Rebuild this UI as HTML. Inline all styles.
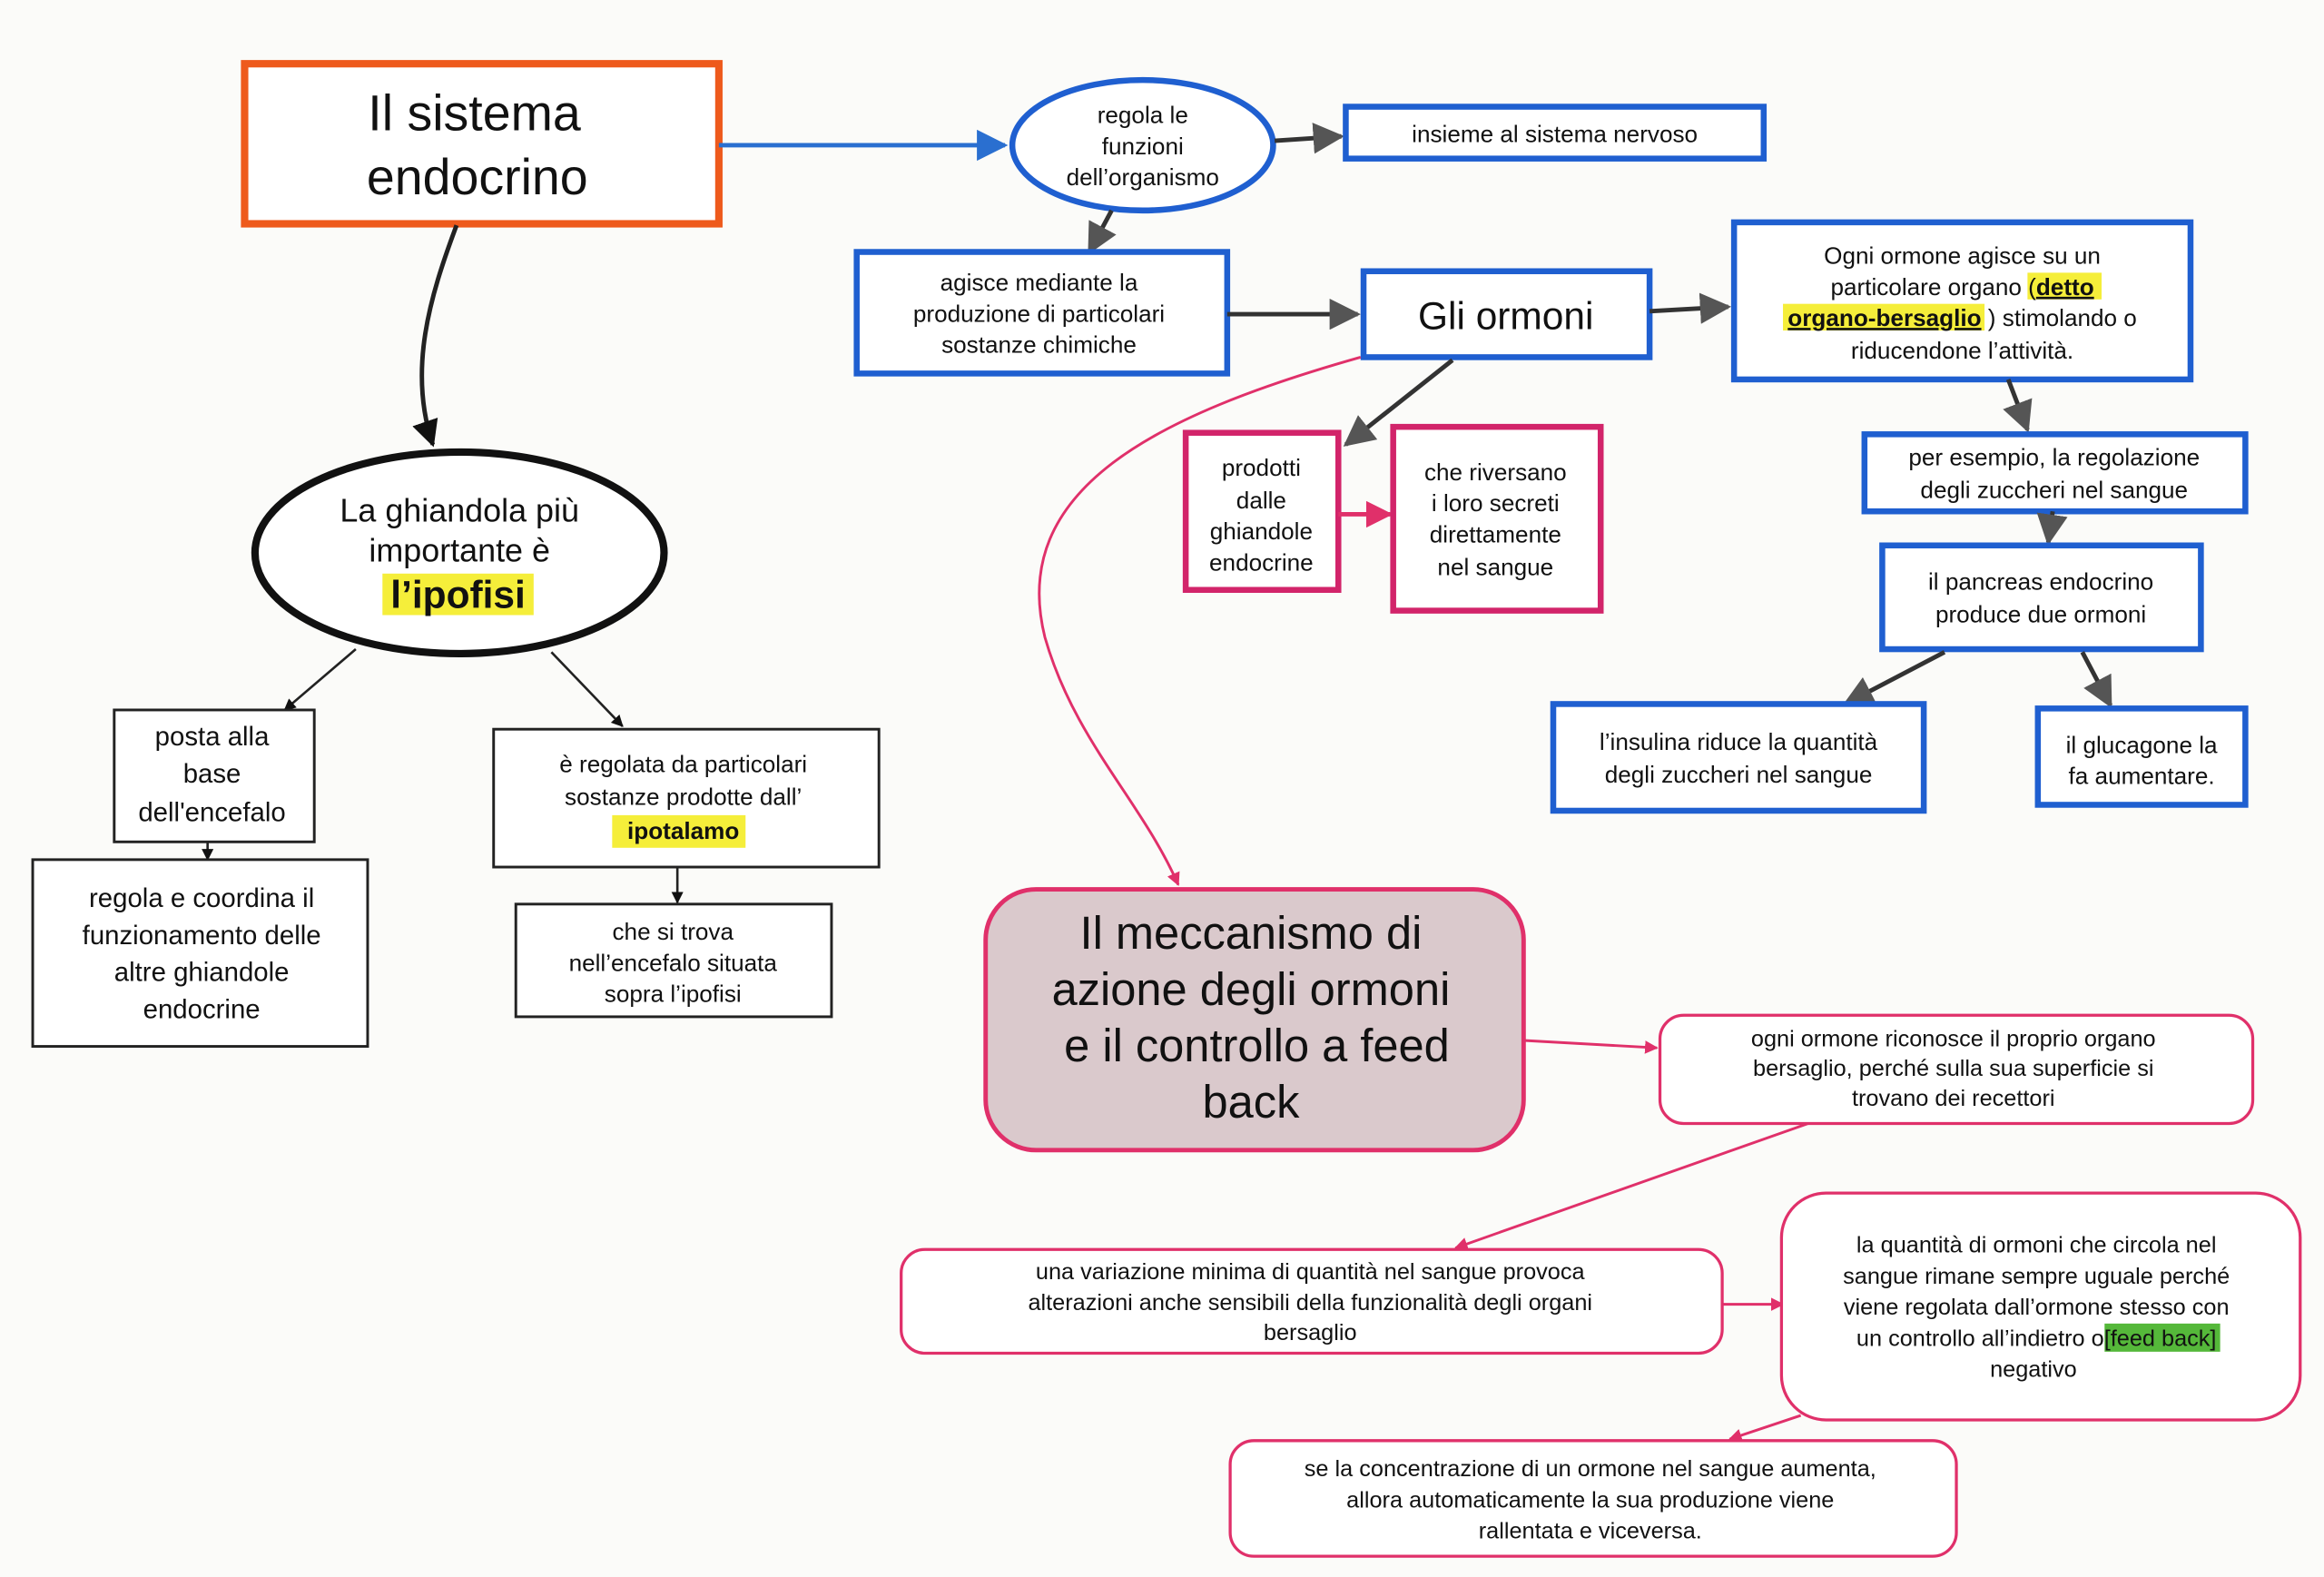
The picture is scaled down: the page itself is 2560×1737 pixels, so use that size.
<!DOCTYPE html>
<html><head><meta charset="utf-8"><style>
html,body{margin:0;padding:0;background:#fbfbf9;}
svg{display:block;}
text{font-family:"Liberation Sans",sans-serif;fill:#111;}
</style></head><body>
<svg width="2560" height="1737" viewBox="0 0 1568 1064" xmlns="http://www.w3.org/2000/svg">
<defs>
<marker id="ag" viewBox="0 0 10 10" refX="9" refY="5" markerWidth="7" markerHeight="7" orient="auto"><path d="M0,0 L10,5 L0,10 z" fill="#555"/></marker>
<marker id="ab" viewBox="0 0 10 10" refX="9" refY="5" markerWidth="7" markerHeight="7" orient="auto"><path d="M0,0 L10,5 L0,10 z" fill="#2a6fd0"/></marker>
<marker id="ak" viewBox="0 0 10 10" refX="9" refY="5" markerWidth="6" markerHeight="6" orient="auto"><path d="M0,0 L10,5 L0,10 z" fill="#111"/></marker>
<marker id="as" viewBox="0 0 10 10" refX="9" refY="5" markerWidth="5" markerHeight="5" orient="auto"><path d="M0,0 L10,5 L0,10 z" fill="#111"/></marker>
<marker id="ap" viewBox="0 0 10 10" refX="9" refY="5" markerWidth="6" markerHeight="6" orient="auto"><path d="M0,0 L10,5 L0,10 z" fill="#e0306a"/></marker>
<marker id="apb" viewBox="0 0 10 10" refX="9" refY="5" markerWidth="5" markerHeight="5" orient="auto"><path d="M0,0 L10,5 L0,10 z" fill="#e0306a"/></marker>
</defs>
<rect width="1568" height="1064" fill="#fbfbf9"/>

<rect x="165" y="43" width="320" height="108" fill="#fff" stroke="#ee5a1c" stroke-width="5"/>
<text x="320" y="88" font-size="34" text-anchor="middle">Il sistema</text>
<text x="322" y="131" font-size="34" text-anchor="middle">endocrino</text>
<line x1="485" y1="98" x2="678" y2="98" stroke="#2a6fd0" stroke-width="3" marker-end="url(#ab)"/>

<ellipse cx="771" cy="98" rx="88" ry="44" fill="#fff" stroke="#1f5fd0" stroke-width="4"/>
<text font-size="16" text-anchor="middle"><tspan x="771" y="83">regola le</tspan><tspan x="771" y="104">funzioni</tspan><tspan x="771" y="125">dell’organismo</tspan></text>
<line x1="860" y1="95" x2="905" y2="92" stroke="#333" stroke-width="3" marker-end="url(#ag)"/>
<rect x="908" y="72" width="282" height="35" fill="#fff" stroke="#1f5fd0" stroke-width="4"/>
<text x="1049" y="96" font-size="16" text-anchor="middle">insieme al sistema nervoso</text>

<line x1="750" y1="142" x2="735" y2="170" stroke="#333" stroke-width="3" marker-end="url(#ag)"/>
<rect x="578" y="170" width="250" height="82" fill="#fff" stroke="#1f5fd0" stroke-width="4"/>
<text font-size="16" text-anchor="middle"><tspan x="701" y="196">agisce mediante la</tspan><tspan x="701" y="217">produzione  di particolari</tspan><tspan x="701" y="238">sostanze chimiche</tspan></text>
<line x1="828" y1="212" x2="916" y2="212" stroke="#333" stroke-width="3" marker-end="url(#ag)"/>
<rect x="920" y="183" width="193" height="58" fill="#fff" stroke="#1f5fd0" stroke-width="4"/>
<text x="1016" y="222" font-size="26" text-anchor="middle">Gli ormoni</text>
<line x1="1113" y1="210" x2="1166" y2="207" stroke="#333" stroke-width="3" marker-end="url(#ag)"/>

<rect x="1170" y="150" width="308" height="106" fill="#fff" stroke="#1f5fd0" stroke-width="4"/>
<rect x="1368" y="184" width="50" height="18" fill="#f5ee3a"/>
<rect x="1203" y="205" width="136" height="18" fill="#f5ee3a"/>
<text font-size="16" text-anchor="middle"><tspan x="1324" y="178">Ogni ormone agisce su un</tspan><tspan x="1324" y="199">particolare organo (<tspan font-weight="bold" text-decoration="underline">detto</tspan></tspan><tspan x="1324" y="220"><tspan font-weight="bold" text-decoration="underline">organo-bersaglio</tspan> ) stimolando o</tspan><tspan x="1324" y="242">riducendone l’attività.</tspan></text>

<line x1="1355" y1="256" x2="1368" y2="290" stroke="#333" stroke-width="3" marker-end="url(#ag)"/>
<rect x="1258" y="293" width="257" height="52" fill="#fff" stroke="#1f5fd0" stroke-width="4"/>
<text font-size="16" text-anchor="middle"><tspan x="1386" y="314">per esempio, la regolazione</tspan><tspan x="1386" y="336">degli zuccheri nel sangue</tspan></text>
<line x1="1385" y1="345" x2="1382" y2="366" stroke="#333" stroke-width="3" marker-end="url(#ag)"/>
<rect x="1270" y="368" width="215" height="70" fill="#fff" stroke="#1f5fd0" stroke-width="4"/>
<text font-size="16" text-anchor="middle"><tspan x="1377" y="398">il pancreas endocrino</tspan><tspan x="1377" y="420">produce due ormoni</tspan></text>
<line x1="1312" y1="440" x2="1245" y2="475" stroke="#333" stroke-width="3" marker-end="url(#ag)"/>
<line x1="1405" y1="440" x2="1424" y2="476" stroke="#333" stroke-width="3" marker-end="url(#ag)"/>
<rect x="1048" y="475" width="250" height="72" fill="#fff" stroke="#1f5fd0" stroke-width="4"/>
<text font-size="16" text-anchor="middle"><tspan x="1173" y="506">l’insulina riduce la quantità</tspan><tspan x="1173" y="528">degli zuccheri nel sangue</tspan></text>
<rect x="1375" y="478" width="140" height="65" fill="#fff" stroke="#1f5fd0" stroke-width="4"/>
<text font-size="16" text-anchor="middle"><tspan x="1445" y="508">il glucagone la</tspan><tspan x="1445" y="529">fa aumentare.</tspan></text>

<line x1="980" y1="243" x2="908" y2="300" stroke="#333" stroke-width="3" marker-end="url(#ag)"/>
<rect x="800" y="292" width="103" height="106" fill="#fff" stroke="#d2246a" stroke-width="4"/>
<text font-size="16" text-anchor="middle"><tspan x="851" y="321">prodotti</tspan><tspan x="851" y="343">dalle</tspan><tspan x="851" y="364">ghiandole</tspan><tspan x="851" y="385">endocrine</tspan></text>
<line x1="903" y1="347" x2="938" y2="347" stroke="#e0306a" stroke-width="3" marker-end="url(#ap)"/>
<rect x="940" y="288" width="140" height="124" fill="#fff" stroke="#d2246a" stroke-width="4"/>
<text font-size="16" text-anchor="middle"><tspan x="1009" y="324">che riversano</tspan><tspan x="1009" y="345">i loro secreti</tspan><tspan x="1009" y="366">direttamente</tspan><tspan x="1009" y="388">nel sangue</tspan></text>

<path d="M918,241 C780,280 680,330 705,430 C725,500 770,540 795,597" fill="none" stroke="#e0306a" stroke-width="1.8" marker-end="url(#apb)"/>

<rect x="665" y="600" width="363" height="176" rx="34" fill="#dac9cc" stroke="#e0306a" stroke-width="3"/>
<text font-size="31" text-anchor="middle"><tspan x="844" y="640">Il meccanismo di</tspan><tspan x="844" y="678">azione degli ormoni</tspan><tspan x="848" y="716">e il controllo a feed</tspan><tspan x="844" y="754">back</tspan></text>
<line x1="1028" y1="702" x2="1118" y2="707" stroke="#e0306a" stroke-width="1.8" marker-end="url(#apb)"/>
<rect x="1120" y="685" width="400" height="73" rx="16" fill="#fff" stroke="#e0306a" stroke-width="2"/>
<text font-size="15.5" text-anchor="middle"><tspan x="1318" y="706">ogni ormone riconosce il proprio organo</tspan><tspan x="1318" y="726">bersaglio, perché sulla sua superficie si</tspan><tspan x="1318" y="746">trovano dei recettori</tspan></text>
<line x1="1220" y1="758" x2="982" y2="842" stroke="#e0306a" stroke-width="1.8" marker-end="url(#apb)"/>
<rect x="608" y="843" width="554" height="70" rx="16" fill="#fff" stroke="#e0306a" stroke-width="2"/>
<text font-size="15.5" text-anchor="middle"><tspan x="884" y="863">una variazione minima di quantità nel sangue  provoca</tspan><tspan x="884" y="884">alterazioni anche sensibili della funzionalità degli organi</tspan><tspan x="884" y="904">bersaglio</tspan></text>
<line x1="1162" y1="880" x2="1203" y2="880" stroke="#e0306a" stroke-width="1.8" marker-end="url(#apb)"/>
<rect x="1202" y="805" width="350" height="153" rx="30" fill="#fff" stroke="#e0306a" stroke-width="2"/>
<rect x="1420" y="893" width="78" height="19" fill="#55b83a"/>
<text font-size="15.5" text-anchor="middle"><tspan x="1374" y="845">la quantità di ormoni che circola nel</tspan><tspan x="1374" y="866">sangue rimane sempre uguale perché</tspan><tspan x="1374" y="887">viene regolata dall’ormone stesso con</tspan><tspan x="1374" y="908">un controllo all’indietro o[feed back]</tspan><tspan x="1372" y="929">negativo</tspan></text>
<line x1="1215" y1="955" x2="1167" y2="971" stroke="#e0306a" stroke-width="1.8" marker-end="url(#apb)"/>
<rect x="830" y="972" width="490" height="78" rx="16" fill="#fff" stroke="#e0306a" stroke-width="2"/>
<text font-size="15.5" text-anchor="middle"><tspan x="1073" y="996">se la concentrazione di un ormone nel sangue aumenta,</tspan><tspan x="1073" y="1017">allora automaticamente la sua produzione viene</tspan><tspan x="1073" y="1038">rallentata e viceversa.</tspan></text>

<path d="M308,152 C290,200 275,250 292,300" fill="none" stroke="#222" stroke-width="3" marker-end="url(#ak)"/>
<ellipse cx="310" cy="373" rx="138" ry="68" fill="#fff" stroke="#111" stroke-width="5"/>
<rect x="258" y="387" width="102" height="28" fill="#f5ee3a"/>
<text font-size="22" text-anchor="middle"><tspan x="310" y="352">La ghiandola più</tspan><tspan x="310" y="379">importante è</tspan></text>
<text x="309" y="410" font-size="26" font-weight="bold" text-anchor="middle">l’ipofisi</text>
<line x1="240" y1="438" x2="192" y2="479" stroke="#222" stroke-width="1.6" marker-end="url(#as)"/>
<line x1="372" y1="440" x2="420" y2="490" stroke="#222" stroke-width="1.6" marker-end="url(#as)"/>
<rect x="77" y="479" width="135" height="89" fill="#fff" stroke="#222" stroke-width="1.8"/>
<text font-size="18" text-anchor="middle"><tspan x="143" y="503">posta alla</tspan><tspan x="143" y="528">base</tspan><tspan x="143" y="554">dell'encefalo</tspan></text>
<line x1="140" y1="568" x2="140" y2="580" stroke="#222" stroke-width="1.6" marker-end="url(#as)"/>
<rect x="22" y="580" width="226" height="126" fill="#fff" stroke="#222" stroke-width="1.8"/>
<text font-size="18" text-anchor="middle"><tspan x="136" y="612">regola e coordina il</tspan><tspan x="136" y="637">funzionamento delle</tspan><tspan x="136" y="662">altre ghiandole</tspan><tspan x="136" y="687">endocrine</tspan></text>
<rect x="333" y="492" width="260" height="93" fill="#fff" stroke="#222" stroke-width="1.8"/>
<rect x="413" y="550" width="90" height="22" fill="#f5ee3a"/>
<text font-size="16" text-anchor="middle"><tspan x="461" y="521">è regolata da particolari</tspan><tspan x="461" y="543">sostanze prodotte dall’</tspan></text>
<text x="461" y="566" font-size="16" font-weight="bold" text-anchor="middle">ipotalamo</text>
<line x1="457" y1="585" x2="457" y2="609" stroke="#222" stroke-width="1.6" marker-end="url(#as)"/>
<rect x="348" y="610" width="213" height="76" fill="#fff" stroke="#222" stroke-width="1.8"/>
<text font-size="16" text-anchor="middle"><tspan x="454" y="634">che si trova</tspan><tspan x="454" y="655">nell’encefalo situata</tspan><tspan x="454" y="676">sopra l’ipofisi</tspan></text>
</svg>
</body></html>
